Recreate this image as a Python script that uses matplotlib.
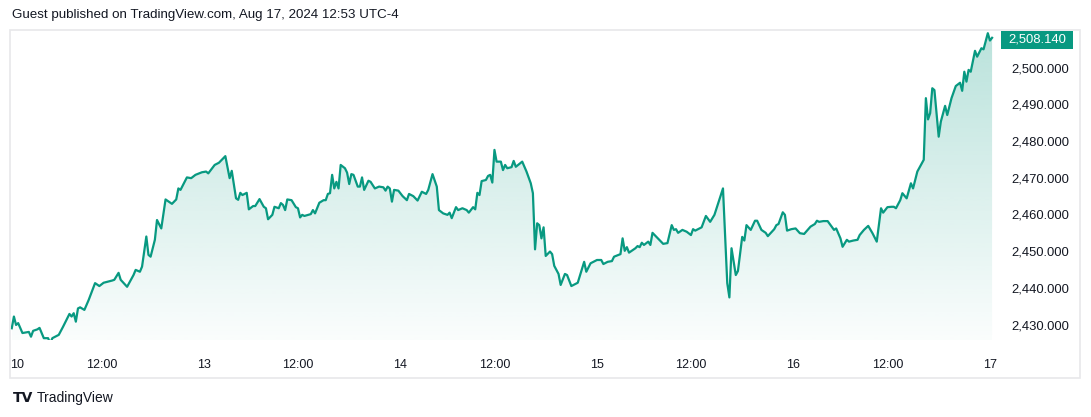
import numpy as np
import matplotlib
matplotlib.use("Agg")
import matplotlib.pyplot as plt
from matplotlib.patches import Rectangle
from matplotlib.transforms import blended_transform_factory
from matplotlib.colors import to_rgb

# ---------------- data (15-minute bar index, price) ----------------
bars = [2, 3, 4, 5, 7, 8, 10, 11, 12, 14, 15, 17, 19, 20, 21, 24, 26, 29, 30, 31,
        32, 33, 34, 36, 38, 41, 43, 45, 49, 50, 52, 53, 56, 59, 60, 62, 63, 65, 66, 67,
        69, 70, 72, 74, 77, 79, 80, 81, 84, 86, 88, 91, 93, 94, 97, 99, 102, 104, 105, 107,
        108, 109, 110, 112, 113, 115, 116, 118, 120, 121, 122, 124, 125, 127, 128, 129, 130, 131, 133, 135,
        136, 137, 138, 139, 142, 143, 144, 146, 148, 149, 150, 151, 152, 153, 154, 155, 156, 158, 159, 160,
        161, 162, 164, 165, 166, 167, 169, 170, 172, 174, 176, 177, 178, 179, 180, 181, 183, 185, 187, 188,
        190, 192, 194, 196, 197, 199, 201, 202, 204, 206, 207, 208, 210, 211, 213, 215, 216, 218, 219, 220,
        221, 222, 224, 225, 226, 227, 228, 229, 231, 232, 233, 234, 236, 237, 238, 241, 243, 245, 246, 247,
        248, 249, 250, 251, 252, 254, 255, 256, 258, 259, 261, 262, 264, 267, 270, 271, 273, 276, 278, 279,
        281, 283, 284, 287, 288, 289, 290, 291, 294, 295, 296, 297, 298, 300, 301, 302, 304, 307, 309, 311,
        312, 313, 314, 316, 318, 320, 321, 322, 324, 325, 327, 329, 331, 335, 337, 338, 339, 341, 342, 344,
        345, 346, 348, 350, 351, 353, 355, 356, 359, 360, 361, 363, 364, 365, 367, 369, 371, 373, 376, 378,
        379, 380, 382, 384, 387, 388, 390, 391, 393, 394, 396, 398, 399, 401, 403, 405, 407, 409, 410, 412,
        414, 415, 416, 418, 419, 421, 423, 424, 426, 429, 430, 431, 432, 433, 434, 436, 437, 439, 440, 442,
        444, 446, 447, 448, 449, 450, 451, 453, 454, 456, 457, 459, 460, 461]

prices = [2429.0, 2432.2, 2429.9, 2430.4, 2427.7, 2427.8, 2428.0, 2426.7, 2428.3, 2428.7,
          2429.1, 2426.3, 2426.3, 2424.9, 2426.3, 2427.2, 2429.4, 2432.9, 2432.2, 2433.1,
          2430.8, 2434.4, 2434.7, 2434.0, 2436.7, 2441.3, 2440.5, 2441.4, 2442.0, 2442.2,
          2444.1, 2442.2, 2440.3, 2443.5, 2444.9, 2444.4, 2445.8, 2454.0, 2449.0, 2448.5,
          2453.1, 2458.5, 2456.2, 2464.1, 2462.9, 2464.1, 2467.1, 2466.7, 2470.1, 2469.9,
          2470.8, 2471.5, 2471.7, 2471.2, 2473.5, 2474.1, 2475.9, 2469.9, 2471.9, 2464.4,
          2464.0, 2465.9, 2465.3, 2465.9, 2461.4, 2462.3, 2462.3, 2464.2, 2462.1, 2461.7,
          2458.7, 2459.9, 2462.1, 2461.7, 2463.1, 2462.6, 2461.2, 2464.1, 2463.9, 2462.0,
          2461.7, 2459.2, 2459.9, 2459.6, 2460.1, 2461.2, 2460.3, 2463.2, 2463.9, 2463.9,
          2465.6, 2465.8, 2470.8, 2467.1, 2468.9, 2467.1, 2473.5, 2472.6, 2471.4, 2468.3,
          2471.0, 2470.8, 2467.6, 2467.6, 2470.1, 2466.7, 2469.2, 2468.9, 2467.1, 2467.6,
          2467.4, 2466.5, 2467.6, 2467.1, 2463.5, 2466.7, 2466.5, 2465.0, 2463.9, 2465.6,
          2465.0, 2463.8, 2466.2, 2465.6, 2466.7, 2471.0, 2467.6, 2461.2, 2460.3, 2459.9,
          2460.5, 2459.0, 2462.0, 2461.2, 2461.7, 2461.2, 2460.5, 2462.0, 2461.4, 2465.9,
          2465.3, 2469.1, 2469.4, 2470.5, 2470.8, 2468.7, 2477.6, 2474.4, 2474.4, 2472.1,
          2473.5, 2472.6, 2472.9, 2474.6, 2473.0, 2474.4, 2471.7, 2468.5, 2465.8, 2450.5,
          2457.6, 2457.1, 2453.5, 2456.5, 2448.7, 2449.9, 2449.2, 2446.0, 2443.8, 2440.8,
          2443.8, 2443.5, 2440.5, 2441.4, 2447.1, 2444.4, 2446.7, 2447.6, 2447.6, 2446.5,
          2447.1, 2447.3, 2448.5, 2449.2, 2453.5, 2450.1, 2451.1, 2449.6, 2450.8, 2451.4,
          2451.1, 2452.3, 2451.7, 2452.6, 2451.7, 2455.0, 2453.8, 2452.0, 2452.2, 2457.1,
          2455.8, 2456.0, 2455.0, 2455.8, 2455.3, 2454.4, 2456.0, 2455.6, 2456.2, 2456.5,
          2459.6, 2458.0, 2459.9, 2467.1, 2441.3, 2437.4, 2450.8, 2443.5, 2444.6, 2453.9,
          2452.9, 2457.1, 2455.8, 2458.3, 2458.3, 2455.8, 2455.0, 2454.1, 2456.0, 2457.1,
          2457.4, 2460.6, 2459.9, 2455.6, 2456.0, 2456.2, 2454.9, 2454.7, 2456.7, 2457.4,
          2458.3, 2458.0, 2458.2, 2458.2, 2455.8, 2456.2, 2453.5, 2451.2, 2453.1, 2452.6,
          2452.9, 2453.1, 2454.4, 2455.8, 2456.9, 2454.9, 2452.6, 2461.7, 2460.5, 2462.0,
          2462.1, 2462.1, 2461.7, 2463.9, 2465.8, 2464.4, 2468.5, 2467.1, 2471.7, 2474.9,
          2491.7, 2485.9, 2487.6, 2494.4, 2493.9, 2481.2, 2485.3, 2489.6, 2487.1, 2491.7,
          2495.0, 2495.9, 2493.7, 2498.9, 2496.2, 2499.4, 2498.9, 2504.6, 2503.0, 2505.3,
          2505.0, 2509.4, 2507.4, 2508.14]

time_labels = ["10", "12:00", "13", "12:00", "14", "12:00", "15", "12:00", "16", "12:00", "17"]
price_ticks = [2430, 2440, 2450, 2460, 2470, 2480, 2490, 2500]
bars_per_day = 92
noon_offset = 44
title_text = "Guest published on TradingView.com, Aug 17, 2024 12:53 UTC-4"

# ---------------- style ----------------
LINE = "#089981"
TXT = "#131722"
FRAME = "#e8e8ea"
W, H = 1091, 417
plt.rcParams['font.family'] = ['Liberation Sans', 'DejaVu Sans']

fig = plt.figure(figsize=(W / 100, H / 100), dpi=100)
fig.patch.set_facecolor("white")

# outer chart frame
fig.patches.append(Rectangle((10 / W, 1 - 378 / H), 1070 / W, 348 / H,
                             transform=fig.transFigure, fill=False,
                             edgecolor=FRAME, linewidth=1.2, zorder=0))

pane_l, pane_r, pane_t, pane_b = 10, 997, 30, 340
ax = fig.add_axes([pane_l / W, 1 - pane_b / H, (pane_r - pane_l) / W, (pane_b - pane_t) / H])
ax.set_facecolor("none")

x = np.array(bars, dtype=float)
y = np.array(prices)

ax.set_xlim(1.17, 463.3)
ax.set_ylim(2425.8, 2510.27)

# gradient area fill
ymin, ymax = ax.get_ylim()
r, g, b = to_rgb(LINE)
n = 256
alpha = np.linspace(0.02, 0.28, n)
top = y.max()
grad = np.zeros((n, 1, 4))
grad[:, 0, 0] = r
grad[:, 0, 1] = g
grad[:, 0, 2] = b
grad[:, 0, 3] = alpha
im = ax.imshow(grad, aspect="auto", origin="lower",
               extent=[x.min(), x.max(), ymin, top], zorder=1, interpolation="bilinear")
poly = ax.fill_between(x, y, ymin, facecolor="none", edgecolor="none")
path = poly.get_paths()[0]
im.set_clip_path(path, transform=ax.transData)

ax.plot(x, y, color=LINE, linewidth=1.6, solid_joinstyle="round", zorder=3)

# axes styling
for s in ax.spines.values():
    s.set_visible(False)

tick_pos = []
for k in range(6):
    tick_pos.append(k * bars_per_day)
    if k < 5:
        tick_pos.append(k * bars_per_day + noon_offset)
tick_pos[0] = x.min() + 2.5  # first label kept inside the pane, as TradingView does
ax.set_xticks(tick_pos)
ax.set_xticklabels(time_labels)
ax.tick_params(axis="x", length=0, pad=14, labelsize=9, labelcolor=TXT)

ax.yaxis.tick_right()
ax.set_yticks(price_ticks)
ax.set_yticklabels([f"{v:,.3f}" for v in price_ticks])
ax.tick_params(axis="y", length=0, pad=10, labelsize=9.4, labelcolor=TXT)

# last price badge (kept inside the pane at the top, as TradingView does)
last = prices[-1]
tr = blended_transform_factory(fig.transFigure, ax.transData)
badge_h = 17.6 * (ymax - ymin) / (pane_b - pane_t)
badge_y0 = min(last - badge_h / 2, ymax - badge_h - 0.3)
ax.add_patch(Rectangle((1001 / W, badge_y0), 72 / W, badge_h, transform=tr,
                       facecolor=LINE, edgecolor="none", clip_on=False, zorder=5))
ax.text(1037 / W, badge_y0 + badge_h / 2, f"{last:,.3f}", transform=tr, ha="center", va="center",
        color="white", fontsize=9.4, zorder=6, clip_on=False)

# header and footer
fig.text(12 / W, 1 - 15 / H, title_text, ha="left", va="center", fontsize=9.6, color=TXT)
fig.text(37 / W, 1 - 398 / H, "TradingView", ha="left", va="center", fontsize=10, color=TXT)
fig.text(13 / W, 1 - 398 / H, "TV", ha="left", va="center", fontsize=10,
         fontweight="bold", color=TXT, family="DejaVu Sans")

fig.savefig("out.png", dpi=100, facecolor="white")
